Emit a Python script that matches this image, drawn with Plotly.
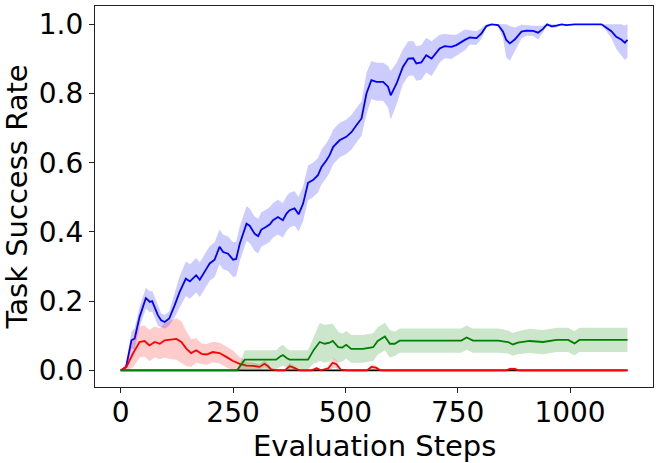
import plotly.graph_objects as go
import numpy as np

# ---- data ----
blue_x = [0, 12, 24, 31, 42, 56, 65, 70, 83, 90, 98, 108, 120, 131, 145, 154, 168, 176, 191, 198,
          209, 220, 228, 239, 250, 257, 265, 280, 287, 298, 306, 313, 324, 332, 339, 350, 361, 369,
          376, 387, 396, 406, 417, 428, 439, 447, 458, 465, 473, 487, 502, 514, 525, 536, 547, 558,
          569, 584, 595, 601, 614, 628, 640, 651, 658, 669, 680, 692, 710, 721, 736, 747, 766, 777,
          792, 803, 814, 825, 840, 851, 858, 866, 877, 892, 903, 918, 929, 940, 949, 959, 970, 981,
          992, 1010, 1036, 1059, 1070, 1081, 1092, 1103, 1114, 1122, 1128]
blue_mean = [0.0, 0.01, 0.087, 0.092, 0.154, 0.209, 0.198, 0.2, 0.159, 0.145, 0.14, 0.15, 0.188,
             0.226, 0.265, 0.257, 0.275, 0.262, 0.294, 0.309, 0.32, 0.357, 0.342, 0.337, 0.32,
             0.322, 0.366, 0.424, 0.418, 0.395, 0.388, 0.407, 0.415, 0.422, 0.434, 0.443, 0.434,
             0.453, 0.463, 0.468, 0.451, 0.482, 0.542, 0.55, 0.564, 0.588, 0.607, 0.622, 0.646,
             0.665, 0.675, 0.689, 0.709, 0.728, 0.80, 0.839, 0.834, 0.834, 0.82, 0.795, 0.829,
             0.877, 0.901, 0.902, 0.887, 0.89, 0.911, 0.901, 0.93, 0.937, 0.935, 0.94, 0.955,
             0.962, 0.96, 0.974, 0.995, 1.0, 0.998, 0.979, 0.955, 0.945, 0.956, 0.979, 0.982,
             0.981, 0.976, 0.987, 1.0, 0.994, 0.996, 1.0, 0.998, 1.0, 1.0, 1.0, 1.0, 0.99, 0.98,
             0.964, 0.956, 0.947, 0.955]
blue_std = [0.0, 0.01, 0.025, 0.03, 0.03, 0.03, 0.03, 0.03, 0.03, 0.02, 0.02, 0.02, 0.035, 0.045,
            0.05, 0.05, 0.05, 0.05, 0.05, 0.05, 0.05, 0.05, 0.05, 0.05, 0.05, 0.05, 0.05, 0.05,
            0.05, 0.05, 0.05, 0.05, 0.05, 0.05, 0.05, 0.05, 0.05, 0.05, 0.05, 0.05, 0.05, 0.05,
            0.05, 0.05, 0.05, 0.05, 0.05, 0.05, 0.05, 0.05, 0.05, 0.05, 0.05, 0.05, 0.06, 0.055,
            0.055, 0.055, 0.06, 0.07, 0.06, 0.05, 0.05, 0.05, 0.05, 0.05, 0.05, 0.05, 0.04, 0.035,
            0.035, 0.03, 0.03, 0.02, 0.02, 0.015, 0.005, 0.0, 0.005, 0.02, 0.05, 0.05, 0.035,
            0.02, 0.015, 0.015, 0.02, 0.01, 0.0, 0.005, 0.005, 0.0, 0.0, 0.0, 0.0, 0.0, 0.0, 0.01,
            0.02, 0.035, 0.045, 0.05, 0.05]

red_x = [0, 13, 27, 42, 53, 64, 76, 87, 98, 109, 124, 135, 146, 157, 168, 180, 191, 205, 220,
         235, 250, 265, 280, 295, 309, 320, 328, 335, 350, 365, 376, 385, 398, 425, 436, 446, 462,
         472, 480, 490, 505, 548, 558, 568, 578, 858, 866, 878, 884, 1128]
red_mean = [0, 0.01, 0.048, 0.082, 0.085, 0.072, 0.082, 0.077, 0.087, 0.088, 0.091, 0.082, 0.063,
            0.05, 0.058, 0.048, 0.046, 0.053, 0.05, 0.039, 0.027, 0.019, 0.014, 0.013, 0.01, 0.019,
            0.012, 0.003, 0, 0, 0.012, 0.008, 0, 0, 0.006, 0, 0.006, 0.022, 0.018, 0.002, 0, 0,
            0.01, 0.008, 0, 0, 0.004, 0.004, 0, 0]
red_std = [0, 0.01, 0.04, 0.045, 0.045, 0.045, 0.045, 0.045, 0.05, 0.055, 0.06, 0.06, 0.05, 0.04,
           0.035, 0.03, 0.03, 0.03, 0.03, 0.03, 0.03, 0.02, 0.01, 0.01, 0.008, 0.01, 0.008, 0.003,
           0, 0, 0.01, 0.006, 0, 0, 0.005, 0, 0.005, 0.015, 0.012, 0, 0, 0, 0.008, 0.006, 0, 0,
           0.004, 0.004, 0, 0]

green_x = [0, 259, 276, 346, 355, 361, 370, 376, 417, 430, 443, 454, 465, 472, 484, 493, 502, 513,
           539, 562, 572, 588, 599, 610, 621, 758, 770, 784, 840, 862, 873, 884, 910, 940, 970,
           996, 1010, 1021, 1128]
green_mean = [0, 0, 0.031, 0.031, 0.04, 0.044, 0.035, 0.031, 0.031, 0.06, 0.082, 0.077, 0.08,
              0.085, 0.067, 0.066, 0.074, 0.062, 0.062, 0.067, 0.085, 0.098, 0.077, 0.077, 0.086,
              0.086, 0.095, 0.086, 0.086, 0.082, 0.075, 0.08, 0.085, 0.082, 0.088, 0.088, 0.078,
              0.088, 0.088]
green_std = [0, 0, 0.027, 0.027, 0.03, 0.03, 0.028, 0.027, 0.027, 0.04, 0.055, 0.055, 0.055,
             0.05, 0.045, 0.04, 0.04, 0.04, 0.04, 0.04, 0.04, 0.04, 0.04, 0.035, 0.035, 0.035,
             0.035, 0.035, 0.035, 0.033, 0.033, 0.033, 0.035, 0.035, 0.035, 0.035, 0.035, 0.035,
             0.035]

black_x = [0, 1128]
black_mean = [0, 0]

x_tick_vals = [0, 250, 500, 750, 1000]
y_tick_vals = [0.0, 0.2, 0.4, 0.6, 0.8, 1.0]
x_title = "Evaluation Steps"
y_title = "Task Success Rate"

FONT = "DejaVu Sans"
FS_TICK = 28
FS_TITLE = 29

fig = go.Figure()

fig.add_trace(go.Scatter(x=black_x, y=black_mean, mode="lines",
                         line=dict(color="black", width=1.8), showlegend=False))


def add_series(xs, mean, std, line_color, fill_color):
    m = np.array(mean, dtype=float)
    s = np.array(std, dtype=float)
    upper = np.clip(m + s, 0, 1)
    lower = np.clip(m - s, 0, 1)
    fig.add_trace(go.Scatter(x=xs, y=upper, mode="lines", line=dict(width=0),
                             showlegend=False, hoverinfo="skip"))
    fig.add_trace(go.Scatter(x=xs, y=lower, mode="lines", line=dict(width=0),
                             fill="tonexty", fillcolor=fill_color,
                             showlegend=False, hoverinfo="skip"))
    fig.add_trace(go.Scatter(x=xs, y=m, mode="lines",
                             line=dict(color=line_color, width=1.8), showlegend=False))


add_series(blue_x, blue_mean, blue_std, "blue", "rgba(0,0,255,0.2)")
add_series(red_x, red_mean, red_std, "red", "rgba(255,0,0,0.2)")
add_series(green_x, green_mean, green_std, "green", "rgba(0,128,0,0.2)")

axis_common = dict(showline=True, linecolor="#222", linewidth=1.2, mirror=True,
                   ticks="outside", ticklen=5, tickwidth=1, tickcolor="#222",
                   showgrid=False, zeroline=False, automargin=False,
                   tickfont=dict(family=FONT, size=FS_TICK, color="black"))

fig.update_xaxes(range=[-57.2, 1184.7], tickvals=x_tick_vals, ticklabelstandoff=-5,
                 **axis_common)
fig.update_yaxes(range=[-0.048, 1.053], tickvals=y_tick_vals, tickformat=".1f",
                 title=dict(text=y_title, font=dict(family=FONT, size=FS_TITLE, color="black"),
                            standoff=6),
                 **axis_common)

# x-axis title placed as a paper-anchored annotation for exact vertical placement
fig.add_annotation(text=x_title, xref="paper", yref="paper", x=0.5, y=-0.104,
                   xanchor="center", yanchor="top", showarrow=False,
                   font=dict(family=FONT, size=FS_TITLE, color="black"))

fig.update_layout(width=660, height=463, margin=dict(l=95, r=7, t=6, b=76),
                  plot_bgcolor="white", paper_bgcolor="white",
                  font=dict(family=FONT, size=FS_TICK, color="black"))

fig.write_html("out.html", config={"displayModeBar": False},
               post_script="document.body.style.margin='0';document.body.style.overflow='hidden';")
